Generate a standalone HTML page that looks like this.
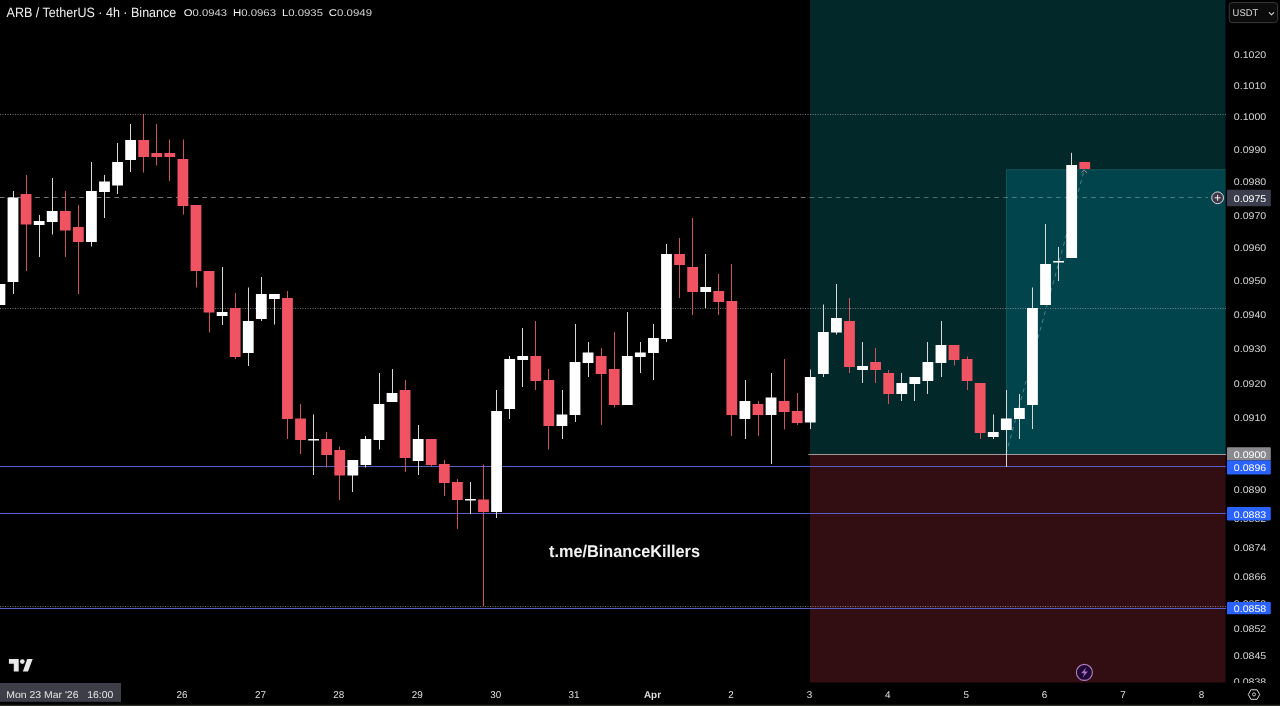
<!DOCTYPE html>
<html><head><meta charset="utf-8"><title>ARB / TetherUS</title>
<style>
html,body{margin:0;padding:0;background:#000;}
body{width:1280px;height:706px;overflow:hidden;position:relative;font-family:"Liberation Sans",sans-serif;}
svg{position:absolute;left:0;top:0;display:block}
svg text{font-family:"Liberation Sans",sans-serif;text-rendering:geometricPrecision;}
.t{will-change:transform}
</style></head><body>
<svg width="1280" height="706" viewBox="0 0 1280 706">
<rect width="1280" height="706" fill="#000"/>
<g id="chart">
<rect x="810" y="0" width="415.5" height="454.3" fill="#02282a"/>
<rect x="1006" y="169.3" width="219.5" height="285" fill="#02444c"/>
<path d="M1006.5 454 V169.8 H1225.5" fill="none" stroke="#1c5a5c" stroke-width="1" opacity="0.7"/>
<rect x="810" y="454.3" width="415.5" height="228.2" fill="#320e12"/>
<line x1="0" x2="1226" y1="114.5" y2="114.5" stroke="#b4b4b4" stroke-width="1" stroke-dasharray="1 1.5" opacity="0.62"/>
<line x1="0" x2="1226" y1="308.5" y2="308.5" stroke="#b4b4b4" stroke-width="1" stroke-dasharray="1 1.5" opacity="0.62"/>
<line x1="0" x2="1226" y1="606.5" y2="606.5" stroke="#b4b4b4" stroke-width="1" stroke-dasharray="1 1.5" opacity="0.62"/>
<line x1="0" x2="810" y1="197.5" y2="197.5" stroke="#8a8a8a" stroke-width="1" stroke-dasharray="4.6 4.2" opacity="0.85"/>
<line x1="809.6" x2="1208" y1="197.5" y2="197.5" stroke="#9fc4c4" stroke-width="1" stroke-dasharray="4.6 4.2" opacity="0.45"/>
<line x1="0" x2="1226" y1="466.5" y2="466.5" stroke="#5660c6" stroke-width="1.1"/>
<line x1="0" x2="1226" y1="513.5" y2="513.5" stroke="#5660c6" stroke-width="1.1"/>
<line x1="0" x2="1226" y1="608.5" y2="608.5" stroke="#5660c6" stroke-width="1.1"/>
<line x1="808.5" x2="1226" y1="454.5" y2="454.5" stroke="#a09a9a" stroke-width="1.1"/>
<line x1="1006" y1="454" x2="1084.2" y2="170.2" stroke="#8fb0b0" stroke-width="1" stroke-dasharray="4 4" opacity="0.55"/>
<rect x="-5.48" y="284.0" width="10.8" height="21.00" fill="#ffffff"/>
<line x1="13.5" x2="13.5" y1="191.0" y2="294.0" stroke="#d8d8d8" stroke-width="1"/>
<rect x="7.59" y="197.5" width="10.8" height="84.50" fill="#ffffff"/>
<line x1="26.5" x2="26.5" y1="175.0" y2="271.0" stroke="#cc5460" stroke-width="1"/>
<rect x="20.66" y="194.0" width="10.8" height="30.50" fill="#f05462"/>
<line x1="39.5" x2="39.5" y1="215.0" y2="257.0" stroke="#d8d8d8" stroke-width="1"/>
<rect x="33.73" y="221.0" width="10.8" height="4.00" fill="#ffffff"/>
<line x1="52.5" x2="52.5" y1="178.0" y2="234.5" stroke="#d8d8d8" stroke-width="1"/>
<rect x="46.80" y="211.0" width="10.8" height="11.00" fill="#ffffff"/>
<line x1="65.5" x2="65.5" y1="191.0" y2="257.0" stroke="#cc5460" stroke-width="1"/>
<rect x="59.87" y="211.0" width="10.8" height="19.50" fill="#f05462"/>
<line x1="78.5" x2="78.5" y1="205.0" y2="294.0" stroke="#cc5460" stroke-width="1"/>
<rect x="72.94" y="227.0" width="10.8" height="15.00" fill="#f05462"/>
<line x1="91.5" x2="91.5" y1="162.0" y2="246.5" stroke="#d8d8d8" stroke-width="1"/>
<rect x="86.01" y="191.0" width="10.8" height="51.00" fill="#ffffff"/>
<line x1="104.5" x2="104.5" y1="175.0" y2="218.0" stroke="#d8d8d8" stroke-width="1"/>
<rect x="99.08" y="181.5" width="10.8" height="10.50" fill="#ffffff"/>
<line x1="117.5" x2="117.5" y1="143.0" y2="194.0" stroke="#d8d8d8" stroke-width="1"/>
<rect x="112.15" y="162.0" width="10.8" height="23.50" fill="#ffffff"/>
<line x1="130.5" x2="130.5" y1="124.0" y2="172.0" stroke="#d8d8d8" stroke-width="1"/>
<rect x="125.22" y="140.0" width="10.8" height="20.00" fill="#ffffff"/>
<line x1="143.5" x2="143.5" y1="114.0" y2="172.5" stroke="#cc5460" stroke-width="1"/>
<rect x="138.29" y="140.0" width="10.8" height="17.00" fill="#f05462"/>
<line x1="156.5" x2="156.5" y1="124.0" y2="165.5" stroke="#cc5460" stroke-width="1"/>
<rect x="151.36" y="153.0" width="10.8" height="4.00" fill="#f05462"/>
<line x1="169.5" x2="169.5" y1="139.5" y2="181.0" stroke="#cc5460" stroke-width="1"/>
<rect x="164.43" y="153.0" width="10.8" height="4.00" fill="#f05462"/>
<line x1="183.5" x2="183.5" y1="139.5" y2="214.5" stroke="#cc5460" stroke-width="1"/>
<rect x="177.50" y="159.0" width="10.8" height="47.00" fill="#f05462"/>
<line x1="196.5" x2="196.5" y1="205.0" y2="287.5" stroke="#cc5460" stroke-width="1"/>
<rect x="190.57" y="205.0" width="10.8" height="66.00" fill="#f05462"/>
<line x1="209.5" x2="209.5" y1="271.0" y2="332.5" stroke="#cc5460" stroke-width="1"/>
<rect x="203.64" y="271.0" width="10.8" height="41.50" fill="#f05462"/>
<line x1="222.5" x2="222.5" y1="267.0" y2="325.0" stroke="#d8d8d8" stroke-width="1"/>
<rect x="216.71" y="312.0" width="10.8" height="4.00" fill="#ffffff"/>
<line x1="235.5" x2="235.5" y1="293.0" y2="359.0" stroke="#cc5460" stroke-width="1"/>
<rect x="229.78" y="308.0" width="10.8" height="49.00" fill="#f05462"/>
<line x1="248.5" x2="248.5" y1="287.5" y2="366.0" stroke="#d8d8d8" stroke-width="1"/>
<rect x="242.85" y="321.0" width="10.8" height="32.00" fill="#ffffff"/>
<line x1="261.5" x2="261.5" y1="277.0" y2="321.0" stroke="#d8d8d8" stroke-width="1"/>
<rect x="255.92" y="294.0" width="10.8" height="25.00" fill="#ffffff"/>
<line x1="274.5" x2="274.5" y1="294.0" y2="324.5" stroke="#d8d8d8" stroke-width="1"/>
<rect x="268.99" y="294.0" width="10.8" height="5.00" fill="#ffffff"/>
<line x1="287.5" x2="287.5" y1="291.0" y2="439.0" stroke="#cc5460" stroke-width="1"/>
<rect x="282.06" y="298.0" width="10.8" height="121.00" fill="#f05462"/>
<line x1="300.5" x2="300.5" y1="404.0" y2="454.0" stroke="#cc5460" stroke-width="1"/>
<rect x="295.13" y="418.5" width="10.8" height="21.50" fill="#f05462"/>
<line x1="313.5" x2="313.5" y1="414.5" y2="475.0" stroke="#d8d8d8" stroke-width="1"/>
<rect x="308.20" y="439.0" width="10.8" height="1.50" fill="#ffffff"/>
<line x1="326.5" x2="326.5" y1="432.0" y2="467.5" stroke="#cc5460" stroke-width="1"/>
<rect x="321.27" y="439.0" width="10.8" height="16.00" fill="#f05462"/>
<line x1="339.5" x2="339.5" y1="446.5" y2="500.0" stroke="#cc5460" stroke-width="1"/>
<rect x="334.34" y="450.0" width="10.8" height="25.50" fill="#f05462"/>
<line x1="352.5" x2="352.5" y1="460.0" y2="492.0" stroke="#d8d8d8" stroke-width="1"/>
<rect x="347.41" y="460.0" width="10.8" height="15.50" fill="#ffffff"/>
<line x1="365.5" x2="365.5" y1="436.0" y2="467.5" stroke="#d8d8d8" stroke-width="1"/>
<rect x="360.48" y="439.0" width="10.8" height="26.00" fill="#ffffff"/>
<line x1="379.5" x2="379.5" y1="373.0" y2="449.5" stroke="#d8d8d8" stroke-width="1"/>
<rect x="373.55" y="404.0" width="10.8" height="36.00" fill="#ffffff"/>
<line x1="392.5" x2="392.5" y1="369.0" y2="402.0" stroke="#d8d8d8" stroke-width="1"/>
<rect x="386.62" y="393.0" width="10.8" height="9.00" fill="#ffffff"/>
<line x1="405.5" x2="405.5" y1="380.0" y2="472.0" stroke="#cc5460" stroke-width="1"/>
<rect x="399.69" y="390.0" width="10.8" height="68.00" fill="#f05462"/>
<line x1="418.5" x2="418.5" y1="425.0" y2="475.0" stroke="#d8d8d8" stroke-width="1"/>
<rect x="412.76" y="439.0" width="10.8" height="22.00" fill="#ffffff"/>
<line x1="431.5" x2="431.5" y1="439.0" y2="467.0" stroke="#cc5460" stroke-width="1"/>
<rect x="425.83" y="439.0" width="10.8" height="26.00" fill="#f05462"/>
<line x1="444.5" x2="444.5" y1="460.0" y2="496.0" stroke="#cc5460" stroke-width="1"/>
<rect x="438.90" y="464.0" width="10.8" height="19.00" fill="#f05462"/>
<line x1="457.5" x2="457.5" y1="479.0" y2="529.0" stroke="#cc5460" stroke-width="1"/>
<rect x="451.97" y="482.0" width="10.8" height="18.00" fill="#f05462"/>
<line x1="470.5" x2="470.5" y1="482.0" y2="514.0" stroke="#d8d8d8" stroke-width="1"/>
<rect x="465.04" y="499.0" width="10.8" height="1.50" fill="#ffffff"/>
<line x1="483.5" x2="483.5" y1="464.5" y2="606.0" stroke="#cc5460" stroke-width="1"/>
<rect x="478.11" y="499.5" width="10.8" height="12.50" fill="#f05462"/>
<line x1="496.5" x2="496.5" y1="390.0" y2="518.0" stroke="#d8d8d8" stroke-width="1"/>
<rect x="491.18" y="411.0" width="10.8" height="101.00" fill="#ffffff"/>
<line x1="509.5" x2="509.5" y1="356.0" y2="419.0" stroke="#d8d8d8" stroke-width="1"/>
<rect x="504.25" y="359.0" width="10.8" height="50.00" fill="#ffffff"/>
<line x1="522.5" x2="522.5" y1="328.0" y2="387.0" stroke="#d8d8d8" stroke-width="1"/>
<rect x="517.32" y="356.0" width="10.8" height="4.00" fill="#ffffff"/>
<line x1="535.5" x2="535.5" y1="321.0" y2="390.0" stroke="#cc5460" stroke-width="1"/>
<rect x="530.39" y="356.0" width="10.8" height="25.00" fill="#f05462"/>
<line x1="548.5" x2="548.5" y1="369.0" y2="449.5" stroke="#cc5460" stroke-width="1"/>
<rect x="543.46" y="380.0" width="10.8" height="46.00" fill="#f05462"/>
<line x1="562.5" x2="562.5" y1="390.0" y2="439.0" stroke="#d8d8d8" stroke-width="1"/>
<rect x="556.53" y="414.5" width="10.8" height="11.50" fill="#ffffff"/>
<line x1="575.5" x2="575.5" y1="324.0" y2="422.0" stroke="#d8d8d8" stroke-width="1"/>
<rect x="569.60" y="362.0" width="10.8" height="53.00" fill="#ffffff"/>
<line x1="588.5" x2="588.5" y1="342.0" y2="377.0" stroke="#d8d8d8" stroke-width="1"/>
<rect x="582.67" y="352.5" width="10.8" height="10.50" fill="#ffffff"/>
<line x1="601.5" x2="601.5" y1="348.0" y2="425.0" stroke="#cc5460" stroke-width="1"/>
<rect x="595.74" y="356.0" width="10.8" height="18.00" fill="#f05462"/>
<line x1="614.5" x2="614.5" y1="332.0" y2="407.5" stroke="#cc5460" stroke-width="1"/>
<rect x="608.81" y="369.0" width="10.8" height="36.00" fill="#f05462"/>
<line x1="627.5" x2="627.5" y1="312.0" y2="405.0" stroke="#d8d8d8" stroke-width="1"/>
<rect x="621.88" y="356.0" width="10.8" height="49.00" fill="#ffffff"/>
<line x1="640.5" x2="640.5" y1="342.0" y2="373.0" stroke="#d8d8d8" stroke-width="1"/>
<rect x="634.95" y="352.5" width="10.8" height="4.50" fill="#ffffff"/>
<line x1="653.5" x2="653.5" y1="324.0" y2="380.0" stroke="#d8d8d8" stroke-width="1"/>
<rect x="648.02" y="338.0" width="10.8" height="15.00" fill="#ffffff"/>
<line x1="666.5" x2="666.5" y1="244.0" y2="342.0" stroke="#d8d8d8" stroke-width="1"/>
<rect x="661.09" y="254.0" width="10.8" height="85.00" fill="#ffffff"/>
<line x1="679.5" x2="679.5" y1="238.0" y2="298.0" stroke="#cc5460" stroke-width="1"/>
<rect x="674.16" y="254.0" width="10.8" height="11.00" fill="#f05462"/>
<line x1="692.5" x2="692.5" y1="218.0" y2="315.0" stroke="#cc5460" stroke-width="1"/>
<rect x="687.23" y="267.0" width="10.8" height="25.00" fill="#f05462"/>
<line x1="705.5" x2="705.5" y1="254.0" y2="308.0" stroke="#d8d8d8" stroke-width="1"/>
<rect x="700.30" y="287.0" width="10.8" height="5.00" fill="#ffffff"/>
<line x1="718.5" x2="718.5" y1="274.0" y2="315.0" stroke="#cc5460" stroke-width="1"/>
<rect x="713.37" y="291.0" width="10.8" height="11.00" fill="#f05462"/>
<line x1="731.5" x2="731.5" y1="264.0" y2="436.0" stroke="#cc5460" stroke-width="1"/>
<rect x="726.44" y="301.0" width="10.8" height="114.00" fill="#f05462"/>
<line x1="745.5" x2="745.5" y1="380.0" y2="439.0" stroke="#d8d8d8" stroke-width="1"/>
<rect x="739.51" y="401.0" width="10.8" height="18.00" fill="#ffffff"/>
<line x1="758.5" x2="758.5" y1="401.0" y2="436.0" stroke="#cc5460" stroke-width="1"/>
<rect x="752.58" y="404.0" width="10.8" height="11.00" fill="#f05462"/>
<line x1="771.5" x2="771.5" y1="373.0" y2="464.0" stroke="#d8d8d8" stroke-width="1"/>
<rect x="765.65" y="397.5" width="10.8" height="17.50" fill="#ffffff"/>
<line x1="784.5" x2="784.5" y1="359.0" y2="429.5" stroke="#cc5460" stroke-width="1"/>
<rect x="778.72" y="401.0" width="10.8" height="11.00" fill="#f05462"/>
<line x1="797.5" x2="797.5" y1="393.0" y2="425.0" stroke="#cc5460" stroke-width="1"/>
<rect x="791.79" y="411.0" width="10.8" height="12.00" fill="#f05462"/>
<line x1="810.5" x2="810.5" y1="369.5" y2="429.0" stroke="#d8d8d8" stroke-width="1"/>
<rect x="804.86" y="377.0" width="10.8" height="45.50" fill="#ffffff"/>
<line x1="823.5" x2="823.5" y1="304.5" y2="377.0" stroke="#d8d8d8" stroke-width="1"/>
<rect x="817.93" y="332.0" width="10.8" height="42.00" fill="#ffffff"/>
<line x1="836.5" x2="836.5" y1="284.0" y2="334.5" stroke="#d8d8d8" stroke-width="1"/>
<rect x="831.00" y="318.0" width="10.8" height="14.50" fill="#ffffff"/>
<line x1="849.5" x2="849.5" y1="298.0" y2="373.0" stroke="#cc5460" stroke-width="1"/>
<rect x="844.07" y="321.0" width="10.8" height="46.00" fill="#f05462"/>
<line x1="862.5" x2="862.5" y1="342.0" y2="383.0" stroke="#d8d8d8" stroke-width="1"/>
<rect x="857.14" y="366.0" width="10.8" height="4.00" fill="#ffffff"/>
<line x1="875.5" x2="875.5" y1="348.0" y2="383.0" stroke="#cc5460" stroke-width="1"/>
<rect x="870.21" y="362.0" width="10.8" height="8.00" fill="#f05462"/>
<line x1="888.5" x2="888.5" y1="370.0" y2="404.0" stroke="#cc5460" stroke-width="1"/>
<rect x="883.28" y="373.0" width="10.8" height="21.00" fill="#f05462"/>
<line x1="901.5" x2="901.5" y1="373.0" y2="401.0" stroke="#d8d8d8" stroke-width="1"/>
<rect x="896.35" y="383.0" width="10.8" height="11.00" fill="#ffffff"/>
<line x1="914.5" x2="914.5" y1="377.0" y2="401.0" stroke="#d8d8d8" stroke-width="1"/>
<rect x="909.42" y="377.0" width="10.8" height="7.00" fill="#ffffff"/>
<line x1="927.5" x2="927.5" y1="342.0" y2="394.0" stroke="#d8d8d8" stroke-width="1"/>
<rect x="922.49" y="362.0" width="10.8" height="19.00" fill="#ffffff"/>
<line x1="941.5" x2="941.5" y1="321.0" y2="377.0" stroke="#d8d8d8" stroke-width="1"/>
<rect x="935.56" y="345.0" width="10.8" height="18.00" fill="#ffffff"/>
<line x1="954.5" x2="954.5" y1="345.0" y2="365.5" stroke="#cc5460" stroke-width="1"/>
<rect x="948.63" y="345.0" width="10.8" height="15.00" fill="#f05462"/>
<line x1="967.5" x2="967.5" y1="356.5" y2="390.0" stroke="#cc5460" stroke-width="1"/>
<rect x="961.70" y="359.0" width="10.8" height="22.00" fill="#f05462"/>
<line x1="980.5" x2="980.5" y1="383.0" y2="439.0" stroke="#cc5460" stroke-width="1"/>
<rect x="974.77" y="383.0" width="10.8" height="50.00" fill="#f05462"/>
<line x1="993.5" x2="993.5" y1="414.5" y2="439.0" stroke="#d8d8d8" stroke-width="1"/>
<rect x="987.84" y="432.0" width="10.8" height="5.00" fill="#ffffff"/>
<line x1="1006.5" x2="1006.5" y1="390.0" y2="467.0" stroke="#d8d8d8" stroke-width="1"/>
<rect x="1000.91" y="418.5" width="10.8" height="11.50" fill="#ffffff"/>
<line x1="1019.5" x2="1019.5" y1="394.0" y2="439.0" stroke="#d8d8d8" stroke-width="1"/>
<rect x="1013.98" y="408.0" width="10.8" height="11.00" fill="#ffffff"/>
<line x1="1032.5" x2="1032.5" y1="287.5" y2="429.0" stroke="#d8d8d8" stroke-width="1"/>
<rect x="1027.05" y="308.0" width="10.8" height="97.00" fill="#ffffff"/>
<line x1="1045.5" x2="1045.5" y1="224.0" y2="305.0" stroke="#d8d8d8" stroke-width="1"/>
<rect x="1040.12" y="264.0" width="10.8" height="41.00" fill="#ffffff"/>
<line x1="1058.5" x2="1058.5" y1="247.0" y2="281.0" stroke="#d8d8d8" stroke-width="1"/>
<rect x="1053.19" y="261.0" width="10.8" height="1.50" fill="#ffffff"/>
<line x1="1071.5" x2="1071.5" y1="152.8" y2="258.0" stroke="#d8d8d8" stroke-width="1"/>
<rect x="1066.26" y="165.0" width="10.8" height="93.00" fill="#ffffff"/>
<rect x="1079.33" y="162.0" width="10.8" height="7.00" fill="#f05462"/>
<path d="M1081.63 172.4 L1084.23 170 L1087.03 173" stroke="#c79aa4" stroke-width="1" fill="none" opacity="0.8"/>
<circle cx="1217.6" cy="197.8" r="5.9" fill="#3e3848" stroke="#e2dae2" stroke-width="1"/>
<path d="M1214.7 197.8H1220.5M1217.6 194.9V200.7" stroke="#fff" stroke-width="0.95"/>
<circle cx="1084.4" cy="672.4" r="8" fill="#1e0a32" stroke="#b47cc4" stroke-width="1.1"/>
<path d="M1086.4 667.2 L1081.2 673.3 H1084.4 L1082.6 677.8 L1087.8 671.5 H1084.6 Z" fill="#b070d0"/>
<path d="M8.9 659.1H18.7V671.5H13.8V663.8H8.9Z" fill="#e8e8e8"/>
<circle cx="22.3" cy="661.6" r="2.35" fill="#e8e8e8"/>
<path d="M27.2 659.1H32.7L28 671.5H22.9Z" fill="#e8e8e8"/>
<path d="M1248.3 694.5 L1250.9 689.8 H1257.1 L1259.7 694.5 L1257.1 699.3 H1250.9 Z" fill="none" stroke="#d8d8d8" stroke-width="1"/>
<circle cx="1254" cy="694.4" r="1.55" fill="none" stroke="#d8d8d8" stroke-width="0.9"/>
</g>
<g id="axis-bg">
<rect x="0" y="704.8" width="1280" height="1.2" fill="#333330"/>
</g>
<clipPath id="axclip"><rect x="1226" y="0" width="54" height="683"/></clipPath>
<g id="axis-labels" class="t" clip-path="url(#axclip)">
<text x="1233.8" y="57.50" font-size="9.7" fill="#d4d4d4" textLength="32.4" lengthAdjust="spacingAndGlyphs">0.1020</text>
<text x="1233.8" y="89.30" font-size="9.7" fill="#d4d4d4" textLength="32.4" lengthAdjust="spacingAndGlyphs">0.1010</text>
<text x="1233.8" y="120.00" font-size="9.7" fill="#d4d4d4" textLength="32.4" lengthAdjust="spacingAndGlyphs">0.1000</text>
<text x="1233.8" y="152.60" font-size="9.7" fill="#d4d4d4" textLength="32.4" lengthAdjust="spacingAndGlyphs">0.0990</text>
<text x="1233.8" y="185.10" font-size="9.7" fill="#d4d4d4" textLength="32.4" lengthAdjust="spacingAndGlyphs">0.0980</text>
<text x="1233.8" y="218.50" font-size="9.7" fill="#d4d4d4" textLength="32.4" lengthAdjust="spacingAndGlyphs">0.0970</text>
<text x="1233.8" y="250.90" font-size="9.7" fill="#d4d4d4" textLength="32.4" lengthAdjust="spacingAndGlyphs">0.0960</text>
<text x="1233.8" y="284.00" font-size="9.7" fill="#d4d4d4" textLength="32.4" lengthAdjust="spacingAndGlyphs">0.0950</text>
<text x="1233.8" y="317.90" font-size="9.7" fill="#d4d4d4" textLength="32.4" lengthAdjust="spacingAndGlyphs">0.0940</text>
<text x="1233.8" y="352.20" font-size="9.7" fill="#d4d4d4" textLength="32.4" lengthAdjust="spacingAndGlyphs">0.0930</text>
<text x="1233.8" y="386.80" font-size="9.7" fill="#d4d4d4" textLength="32.4" lengthAdjust="spacingAndGlyphs">0.0920</text>
<text x="1233.8" y="421.40" font-size="9.7" fill="#d4d4d4" textLength="32.4" lengthAdjust="spacingAndGlyphs">0.0910</text>
<text x="1233.8" y="492.90" font-size="9.7" fill="#d4d4d4" textLength="32.4" lengthAdjust="spacingAndGlyphs">0.0890</text>
<text x="1233.8" y="521.50" font-size="9.7" fill="#d4d4d4" textLength="32.4" lengthAdjust="spacingAndGlyphs">0.0882</text>
<text x="1233.8" y="551.00" font-size="9.7" fill="#d4d4d4" textLength="32.4" lengthAdjust="spacingAndGlyphs">0.0874</text>
<text x="1233.8" y="579.60" font-size="9.7" fill="#d4d4d4" textLength="32.4" lengthAdjust="spacingAndGlyphs">0.0866</text>
<text x="1233.8" y="607.00" font-size="9.7" fill="#d4d4d4" textLength="32.4" lengthAdjust="spacingAndGlyphs">0.0859</text>
<text x="1233.8" y="632.30" font-size="9.7" fill="#d4d4d4" textLength="32.4" lengthAdjust="spacingAndGlyphs">0.0852</text>
<text x="1233.8" y="658.90" font-size="9.7" fill="#d4d4d4" textLength="32.4" lengthAdjust="spacingAndGlyphs">0.0845</text>
<text x="1233.8" y="684.90" font-size="9.7" fill="#d4d4d4" textLength="32.4" lengthAdjust="spacingAndGlyphs">0.0838</text>
</g>
<g id="price-boxes" class="t">
<rect x="1227" y="189.8" width="43.799999999999955" height="16.5" rx="0.8" fill="#3c3e4e"/>
<text x="1233.8" y="201.7" font-size="9.7" fill="#ffffff" textLength="32.4" lengthAdjust="spacingAndGlyphs">0.0975</text>
<rect x="1227" y="447.3" width="43.799999999999955" height="13.300000000000011" rx="0.8" fill="#8a8a8e"/>
<text x="1233.8" y="457.7" font-size="9.7" fill="#ffffff" textLength="32.4" lengthAdjust="spacingAndGlyphs">0.0900</text>
<rect x="1227" y="460.4" width="43.799999999999955" height="14.0" rx="0.8" fill="#2962ff"/>
<text x="1233.8" y="471.2" font-size="9.7" fill="#ffffff" textLength="32.4" lengthAdjust="spacingAndGlyphs">0.0896</text>
<rect x="1227" y="507" width="43.799999999999955" height="13.399999999999977" rx="0.8" fill="#2962ff"/>
<text x="1233.8" y="517.5" font-size="9.7" fill="#ffffff" textLength="32.4" lengthAdjust="spacingAndGlyphs">0.0883</text>
<rect x="1227" y="602" width="43.799999999999955" height="12.299999999999955" rx="0.8" fill="#2962ff"/>
<text x="1233.8" y="612" font-size="9.7" fill="#ffffff" textLength="32.4" lengthAdjust="spacingAndGlyphs">0.0858</text>
</g>
<g id="usdt" class="t">
<rect x="1229.2" y="2.6" width="48.4" height="20" rx="3" fill="#0c0c0c" stroke="#3a3a3a" stroke-width="1"/>
<text x="1232.6" y="16" font-size="9.7" fill="#dcdcdc" textLength="25.6" lengthAdjust="spacingAndGlyphs">USDT</text>
<path d="M1269 12.3 L1271.5 14.8 L1274 12.3" fill="none" stroke="#dcdcdc" stroke-width="1.1"/>
</g>
<g id="time" class="t">
<rect x="0" y="683" width="121" height="18.8" fill="#3e3e48"/>
<text x="6.2" y="698" font-size="9.9" fill="#e4e4e4" textLength="107.2" lengthAdjust="spacingAndGlyphs" xml:space="preserve" style="white-space:pre">Mon 23 Mar '26   16:00</text>
<text x="182.0" y="698" font-size="9.9" fill="#dedede" text-anchor="middle" font-weight="normal">26</text>
<text x="260.4" y="698" font-size="9.9" fill="#dedede" text-anchor="middle" font-weight="normal">27</text>
<text x="338.8" y="698" font-size="9.9" fill="#dedede" text-anchor="middle" font-weight="normal">28</text>
<text x="417.3" y="698" font-size="9.9" fill="#dedede" text-anchor="middle" font-weight="normal">29</text>
<text x="495.7" y="698" font-size="9.9" fill="#dedede" text-anchor="middle" font-weight="normal">30</text>
<text x="574.1" y="698" font-size="9.9" fill="#dedede" text-anchor="middle" font-weight="normal">31</text>
<text x="652.5" y="698" font-size="9.9" fill="#dedede" text-anchor="middle" font-weight="bold">Apr</text>
<text x="730.9" y="698" font-size="9.9" fill="#dedede" text-anchor="middle" font-weight="normal">2</text>
<text x="809.4" y="698" font-size="9.9" fill="#dedede" text-anchor="middle" font-weight="normal">3</text>
<text x="887.8" y="698" font-size="9.9" fill="#dedede" text-anchor="middle" font-weight="normal">4</text>
<text x="966.2" y="698" font-size="9.9" fill="#dedede" text-anchor="middle" font-weight="normal">5</text>
<text x="1044.6" y="698" font-size="9.9" fill="#dedede" text-anchor="middle" font-weight="normal">6</text>
<text x="1123.0" y="698" font-size="9.9" fill="#dedede" text-anchor="middle" font-weight="normal">7</text>
<text x="1201.5" y="698" font-size="9.9" fill="#dedede" text-anchor="middle" font-weight="normal">8</text>
</g>
<g id="texts" class="t">
<text x="6.6" y="16.7" font-size="13.5" fill="#efefef" text-anchor="start" font-weight="normal" textLength="169.7" lengthAdjust="spacingAndGlyphs">ARB / TetherUS · 4h · Binance</text>
<text x="183.8" y="16" font-size="9.8" fill="#cfcfcf" text-anchor="start" font-weight="normal" textLength="43.2" lengthAdjust="spacingAndGlyphs"><tspan fill="#f2f2f2">O</tspan>0.0943</text>
<text x="232.9" y="16" font-size="9.8" fill="#cfcfcf" text-anchor="start" font-weight="normal" textLength="43.2" lengthAdjust="spacingAndGlyphs"><tspan fill="#f2f2f2">H</tspan>0.0963</text>
<text x="282" y="16" font-size="9.8" fill="#cfcfcf" text-anchor="start" font-weight="normal" textLength="41" lengthAdjust="spacingAndGlyphs"><tspan fill="#f2f2f2">L</tspan>0.0935</text>
<text x="328.8" y="16" font-size="9.8" fill="#cfcfcf" text-anchor="start" font-weight="normal" textLength="43.2" lengthAdjust="spacingAndGlyphs"><tspan fill="#f2f2f2">C</tspan>0.0949</text>
<text x="549" y="557" font-size="17" fill="#f2f2f2" text-anchor="start" font-weight="bold" textLength="151" lengthAdjust="spacingAndGlyphs">t.me/BinanceKillers</text>
</g>
<g id="icons-top">
</g>
</svg>
</body></html>
